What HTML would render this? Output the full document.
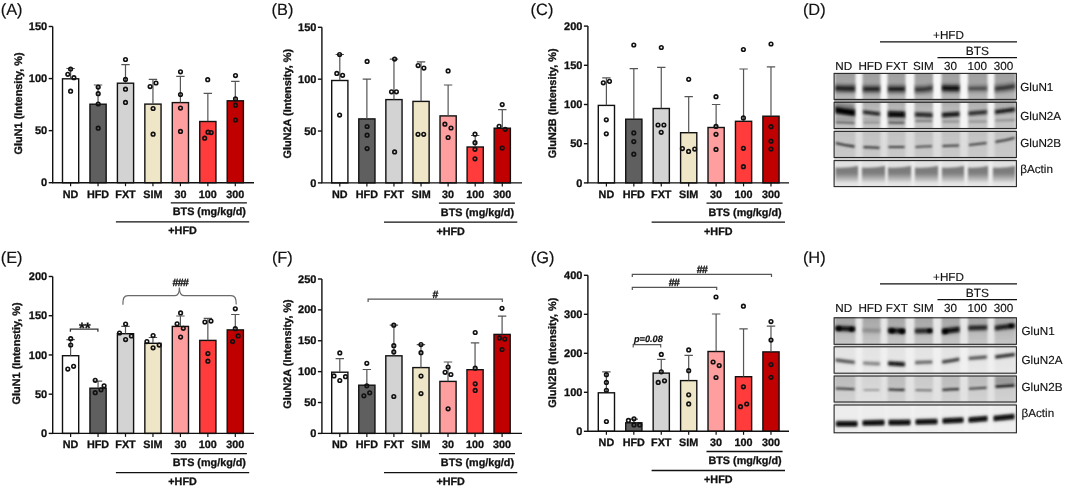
<!DOCTYPE html>
<html><head><meta charset="utf-8"><style>
html,body{margin:0;padding:0;background:#fff;}
svg{display:block;will-change:transform;}
text{font-family:"Liberation Sans", sans-serif;fill:#111;stroke:#111;stroke-width:0.15px;text-rendering:geometricPrecision;}
.b{font-weight:bold;stroke:#111;stroke-width:0.3px;}
.bi{font-weight:bold;font-style:italic;stroke-width:0.2px;}
.hs{letter-spacing:-0.6px;}
</style></head><body>
<svg width="1065" height="487" viewBox="0 0 1065 487">
<rect width="1065" height="487" fill="#fff"/>

<rect x="62.5" y="78.8" width="16.2" height="103.9" fill="#ffffff" stroke="#111" stroke-width="1.4"/>
<rect x="89.95" y="104.2" width="16.2" height="78.5" fill="#5f5f5f" stroke="#111" stroke-width="1.4"/>
<rect x="117.4" y="83.2" width="16.2" height="99.5" fill="#d3d3d3" stroke="#111" stroke-width="1.4"/>
<rect x="144.85" y="104.1" width="16.2" height="78.6" fill="#efe6c8" stroke="#111" stroke-width="1.4"/>
<rect x="172.3" y="102.6" width="16.2" height="80.1" fill="#ff9e9e" stroke="#111" stroke-width="1.4"/>
<rect x="199.75" y="121.5" width="16.2" height="61.2" fill="#ff3b3b" stroke="#111" stroke-width="1.4"/>
<rect x="227.2" y="100.8" width="16.2" height="81.9" fill="#c00000" stroke="#111" stroke-width="1.4"/>
<path d="M70.6 78.6V68.5M66.4 68.5H74.8" stroke="#555" stroke-width="1.2" fill="none"/>
<path d="M98.05 104V85M93.85 85H102.25" stroke="#555" stroke-width="1.2" fill="none"/>
<path d="M125.5 83V64.6M121.3 64.6H129.7" stroke="#555" stroke-width="1.2" fill="none"/>
<path d="M152.95 103.9V79.4M148.75 79.4H157.15" stroke="#555" stroke-width="1.2" fill="none"/>
<path d="M180.4 102.4V76.4M176.2 76.4H184.6" stroke="#555" stroke-width="1.2" fill="none"/>
<path d="M207.85 121.3V93.3M203.65 93.3H212.05" stroke="#555" stroke-width="1.2" fill="none"/>
<path d="M235.3 100.6V81.3M231.1 81.3H239.5" stroke="#555" stroke-width="1.2" fill="none"/>
<circle cx="70.6" cy="69" r="1.8" fill="none" stroke="#111" stroke-width="1.6"/>
<circle cx="67.8" cy="74.3" r="1.8" fill="none" stroke="#111" stroke-width="1.6"/>
<circle cx="73.9" cy="77.7" r="1.8" fill="none" stroke="#111" stroke-width="1.6"/>
<circle cx="70.6" cy="91.2" r="1.8" fill="none" stroke="#111" stroke-width="1.6"/>
<circle cx="98.2" cy="87.1" r="1.8" fill="none" stroke="#111" stroke-width="1.6"/>
<circle cx="98.2" cy="93.7" r="1.8" fill="none" stroke="#111" stroke-width="1.6"/>
<circle cx="98.2" cy="104" r="1.8" fill="none" stroke="#111" stroke-width="1.6"/>
<circle cx="98.2" cy="128.2" r="1.8" fill="none" stroke="#111" stroke-width="1.6"/>
<circle cx="125.5" cy="59.5" r="1.8" fill="none" stroke="#111" stroke-width="1.6"/>
<circle cx="125.5" cy="79.4" r="1.8" fill="none" stroke="#111" stroke-width="1.6"/>
<circle cx="125.5" cy="89.2" r="1.8" fill="none" stroke="#111" stroke-width="1.6"/>
<circle cx="125.5" cy="102.4" r="1.8" fill="none" stroke="#111" stroke-width="1.6"/>
<circle cx="150.1" cy="86.6" r="1.8" fill="none" stroke="#111" stroke-width="1.6"/>
<circle cx="156" cy="83" r="1.8" fill="none" stroke="#111" stroke-width="1.6"/>
<circle cx="153.1" cy="108.5" r="1.8" fill="none" stroke="#111" stroke-width="1.6"/>
<circle cx="153.1" cy="134.2" r="1.8" fill="none" stroke="#111" stroke-width="1.6"/>
<circle cx="180.5" cy="71.8" r="1.8" fill="none" stroke="#111" stroke-width="1.6"/>
<circle cx="180.5" cy="94.5" r="1.8" fill="none" stroke="#111" stroke-width="1.6"/>
<circle cx="180.5" cy="108.1" r="1.8" fill="none" stroke="#111" stroke-width="1.6"/>
<circle cx="180.5" cy="131.4" r="1.8" fill="none" stroke="#111" stroke-width="1.6"/>
<circle cx="207.7" cy="79.7" r="1.8" fill="none" stroke="#111" stroke-width="1.6"/>
<circle cx="208" cy="132.2" r="1.8" fill="none" stroke="#111" stroke-width="1.6"/>
<circle cx="211.2" cy="132.6" r="1.8" fill="none" stroke="#111" stroke-width="1.6"/>
<circle cx="204.7" cy="138.2" r="1.8" fill="none" stroke="#111" stroke-width="1.6"/>
<circle cx="235.5" cy="75.6" r="1.8" fill="none" stroke="#111" stroke-width="1.6"/>
<circle cx="235.5" cy="98.9" r="1.8" fill="none" stroke="#111" stroke-width="1.6"/>
<circle cx="235.5" cy="105.2" r="1.8" fill="none" stroke="#111" stroke-width="1.6"/>
<circle cx="235.5" cy="120" r="1.8" fill="none" stroke="#111" stroke-width="1.6"/>
<path d="M52.7 26.5V182.7H254" stroke="#111" stroke-width="1.4" fill="none"/>
<path d="M48.7 182.7H52.7" stroke="#111" stroke-width="1.4"/>
<text x="47.2" y="186.3" text-anchor="end" class="b" font-size="11">0</text>
<path d="M48.7 130.63H52.7" stroke="#111" stroke-width="1.4"/>
<text x="47.2" y="134.23" text-anchor="end" class="b" font-size="11">50</text>
<path d="M48.7 78.57H52.7" stroke="#111" stroke-width="1.4"/>
<text x="47.2" y="82.17" text-anchor="end" class="b" font-size="11">100</text>
<path d="M48.7 26.5H52.7" stroke="#111" stroke-width="1.4"/>
<text x="47.2" y="30.1" text-anchor="end" class="b" font-size="11">150</text>
<path d="M70.6 182.7V186.2" stroke="#111" stroke-width="1.2"/>
<text x="70.6" y="197.7" text-anchor="middle" class="b" font-size="10.8">ND</text>
<path d="M98.05 182.7V186.2" stroke="#111" stroke-width="1.2"/>
<text x="98.05" y="197.7" text-anchor="middle" class="b" font-size="10.8">HFD</text>
<path d="M125.5 182.7V186.2" stroke="#111" stroke-width="1.2"/>
<text x="125.5" y="197.7" text-anchor="middle" class="b" font-size="10.8">FXT</text>
<path d="M152.95 182.7V186.2" stroke="#111" stroke-width="1.2"/>
<text x="152.95" y="197.7" text-anchor="middle" class="b" font-size="10.8">SIM</text>
<path d="M180.4 182.7V186.2" stroke="#111" stroke-width="1.2"/>
<text x="180.4" y="197.7" text-anchor="middle" class="b" font-size="10.8">30</text>
<path d="M207.85 182.7V186.2" stroke="#111" stroke-width="1.2"/>
<text x="207.85" y="197.7" text-anchor="middle" class="b" font-size="10.8">100</text>
<path d="M235.3 182.7V186.2" stroke="#111" stroke-width="1.2"/>
<text x="235.3" y="197.7" text-anchor="middle" class="b" font-size="10.8">300</text>
<path d="M170.8 202.9H246.9" stroke="#111" stroke-width="1.4"/>
<text x="209.35" y="215.3" text-anchor="middle" class="b" font-size="10.8">BTS (mg/kg/d)</text>
<path d="M115.9 221.9H249.2" stroke="#111" stroke-width="1.4"/>
<text x="182.55" y="234.3" text-anchor="middle" class="b" font-size="10.8">+HFD</text>
<text transform="translate(21.7 103.4) rotate(-90)" text-anchor="middle" class="b" font-size="10.9">GluN1 (Intensity, %)</text>
<text x="0.7" y="14.8" font-size="16.4">(A)</text>
<rect x="331.7" y="80.5" width="16.2" height="102.4" fill="#ffffff" stroke="#111" stroke-width="1.4"/>
<rect x="358.78" y="118.9" width="16.2" height="64" fill="#5f5f5f" stroke="#111" stroke-width="1.4"/>
<rect x="385.86" y="99.6" width="16.2" height="83.3" fill="#d3d3d3" stroke="#111" stroke-width="1.4"/>
<rect x="412.94" y="101.4" width="16.2" height="81.5" fill="#efe6c8" stroke="#111" stroke-width="1.4"/>
<rect x="440.02" y="115.9" width="16.2" height="67" fill="#ff9e9e" stroke="#111" stroke-width="1.4"/>
<rect x="467.1" y="147" width="16.2" height="35.9" fill="#ff3b3b" stroke="#111" stroke-width="1.4"/>
<rect x="494.18" y="128.2" width="16.2" height="54.7" fill="#c00000" stroke="#111" stroke-width="1.4"/>
<path d="M339.8 80.3V54.5M335.6 54.5H344" stroke="#555" stroke-width="1.2" fill="none"/>
<path d="M366.88 118.7V79.1M362.68 79.1H371.08" stroke="#555" stroke-width="1.2" fill="none"/>
<path d="M393.96 99.4V59.1M389.76 59.1H398.16" stroke="#555" stroke-width="1.2" fill="none"/>
<path d="M421.04 101.2V61.8M416.84 61.8H425.24" stroke="#555" stroke-width="1.2" fill="none"/>
<path d="M448.12 115.7V85M443.92 85H452.32" stroke="#555" stroke-width="1.2" fill="none"/>
<path d="M475.2 146.8V135.5M471 135.5H479.4" stroke="#555" stroke-width="1.2" fill="none"/>
<path d="M502.28 128V109.6M498.08 109.6H506.48" stroke="#555" stroke-width="1.2" fill="none"/>
<circle cx="339.6" cy="54.5" r="1.8" fill="none" stroke="#111" stroke-width="1.6"/>
<circle cx="336.8" cy="73.4" r="1.8" fill="none" stroke="#111" stroke-width="1.6"/>
<circle cx="342.6" cy="75.3" r="1.8" fill="none" stroke="#111" stroke-width="1.6"/>
<circle cx="339.6" cy="115.1" r="1.8" fill="none" stroke="#111" stroke-width="1.6"/>
<circle cx="367.1" cy="61.4" r="1.8" fill="none" stroke="#111" stroke-width="1.6"/>
<circle cx="367.1" cy="126.5" r="1.8" fill="none" stroke="#111" stroke-width="1.6"/>
<circle cx="367.1" cy="135.2" r="1.8" fill="none" stroke="#111" stroke-width="1.6"/>
<circle cx="367.1" cy="148.6" r="1.8" fill="none" stroke="#111" stroke-width="1.6"/>
<circle cx="394.6" cy="59.1" r="1.8" fill="none" stroke="#111" stroke-width="1.6"/>
<circle cx="391.5" cy="91.8" r="1.8" fill="none" stroke="#111" stroke-width="1.6"/>
<circle cx="396.4" cy="91.8" r="1.8" fill="none" stroke="#111" stroke-width="1.6"/>
<circle cx="394.6" cy="151.9" r="1.8" fill="none" stroke="#111" stroke-width="1.6"/>
<circle cx="418.1" cy="65.6" r="1.8" fill="none" stroke="#111" stroke-width="1.6"/>
<circle cx="423.9" cy="68.1" r="1.8" fill="none" stroke="#111" stroke-width="1.6"/>
<circle cx="418" cy="134.3" r="1.8" fill="none" stroke="#111" stroke-width="1.6"/>
<circle cx="423.7" cy="134.3" r="1.8" fill="none" stroke="#111" stroke-width="1.6"/>
<circle cx="448.1" cy="70.9" r="1.8" fill="none" stroke="#111" stroke-width="1.6"/>
<circle cx="444.9" cy="124.2" r="1.8" fill="none" stroke="#111" stroke-width="1.6"/>
<circle cx="451" cy="128" r="1.8" fill="none" stroke="#111" stroke-width="1.6"/>
<circle cx="448.1" cy="137.5" r="1.8" fill="none" stroke="#111" stroke-width="1.6"/>
<circle cx="475" cy="134.2" r="1.8" fill="none" stroke="#111" stroke-width="1.6"/>
<circle cx="475" cy="142.7" r="1.8" fill="none" stroke="#111" stroke-width="1.6"/>
<circle cx="475" cy="149.3" r="1.8" fill="none" stroke="#111" stroke-width="1.6"/>
<circle cx="475" cy="158.8" r="1.8" fill="none" stroke="#111" stroke-width="1.6"/>
<circle cx="502.2" cy="104.6" r="1.8" fill="none" stroke="#111" stroke-width="1.6"/>
<circle cx="499.1" cy="126.3" r="1.8" fill="none" stroke="#111" stroke-width="1.6"/>
<circle cx="505.2" cy="129.3" r="1.8" fill="none" stroke="#111" stroke-width="1.6"/>
<circle cx="502.2" cy="148.1" r="1.8" fill="none" stroke="#111" stroke-width="1.6"/>
<path d="M321.9 27.3V182.9H522" stroke="#111" stroke-width="1.4" fill="none"/>
<path d="M317.9 182.9H321.9" stroke="#111" stroke-width="1.4"/>
<text x="316.4" y="186.5" text-anchor="end" class="b" font-size="11">0</text>
<path d="M317.9 131.03H321.9" stroke="#111" stroke-width="1.4"/>
<text x="316.4" y="134.63" text-anchor="end" class="b" font-size="11">50</text>
<path d="M317.9 79.17H321.9" stroke="#111" stroke-width="1.4"/>
<text x="316.4" y="82.77" text-anchor="end" class="b" font-size="11">100</text>
<path d="M317.9 27.3H321.9" stroke="#111" stroke-width="1.4"/>
<text x="316.4" y="30.9" text-anchor="end" class="b" font-size="11">150</text>
<path d="M339.8 182.9V186.4" stroke="#111" stroke-width="1.2"/>
<text x="339.8" y="197.9" text-anchor="middle" class="b" font-size="10.8">ND</text>
<path d="M366.88 182.9V186.4" stroke="#111" stroke-width="1.2"/>
<text x="366.88" y="197.9" text-anchor="middle" class="b" font-size="10.8">HFD</text>
<path d="M393.96 182.9V186.4" stroke="#111" stroke-width="1.2"/>
<text x="393.96" y="197.9" text-anchor="middle" class="b" font-size="10.8">FXT</text>
<path d="M421.04 182.9V186.4" stroke="#111" stroke-width="1.2"/>
<text x="421.04" y="197.9" text-anchor="middle" class="b" font-size="10.8">SIM</text>
<path d="M448.12 182.9V186.4" stroke="#111" stroke-width="1.2"/>
<text x="448.12" y="197.9" text-anchor="middle" class="b" font-size="10.8">30</text>
<path d="M475.2 182.9V186.4" stroke="#111" stroke-width="1.2"/>
<text x="475.2" y="197.9" text-anchor="middle" class="b" font-size="10.8">100</text>
<path d="M502.28 182.9V186.4" stroke="#111" stroke-width="1.2"/>
<text x="502.28" y="197.9" text-anchor="middle" class="b" font-size="10.8">300</text>
<path d="M438.9 203.1H515" stroke="#111" stroke-width="1.4"/>
<text x="477.45" y="215.5" text-anchor="middle" class="b" font-size="10.8">BTS (mg/kg/d)</text>
<path d="M384 222.1H517.3" stroke="#111" stroke-width="1.4"/>
<text x="450.65" y="234.5" text-anchor="middle" class="b" font-size="10.8">+HFD</text>
<text transform="translate(290.7 103.7) rotate(-90)" text-anchor="middle" class="b" font-size="10.9">GluN2A (Intensity, %)</text>
<text x="271.6" y="14.7" font-size="16.4">(B)</text>
<rect x="598.3" y="105.4" width="16.2" height="77.5" fill="#ffffff" stroke="#111" stroke-width="1.4"/>
<rect x="625.73" y="119.2" width="16.2" height="63.7" fill="#5f5f5f" stroke="#111" stroke-width="1.4"/>
<rect x="653.16" y="108.5" width="16.2" height="74.4" fill="#d3d3d3" stroke="#111" stroke-width="1.4"/>
<rect x="680.59" y="132.7" width="16.2" height="50.2" fill="#efe6c8" stroke="#111" stroke-width="1.4"/>
<rect x="708.02" y="127.5" width="16.2" height="55.4" fill="#ff9e9e" stroke="#111" stroke-width="1.4"/>
<rect x="735.45" y="121.3" width="16.2" height="61.6" fill="#ff3b3b" stroke="#111" stroke-width="1.4"/>
<rect x="762.88" y="116.2" width="16.2" height="66.7" fill="#c00000" stroke="#111" stroke-width="1.4"/>
<path d="M606.4 105.2V77.8M602.2 77.8H610.6" stroke="#555" stroke-width="1.2" fill="none"/>
<path d="M633.83 119V68.6M629.63 68.6H638.03" stroke="#555" stroke-width="1.2" fill="none"/>
<path d="M661.26 108.3V67.4M657.06 67.4H665.46" stroke="#555" stroke-width="1.2" fill="none"/>
<path d="M688.69 132.5V96.7M684.49 96.7H692.89" stroke="#555" stroke-width="1.2" fill="none"/>
<path d="M716.12 127.3V104.5M711.92 104.5H720.32" stroke="#555" stroke-width="1.2" fill="none"/>
<path d="M743.55 121.1V69M739.35 69H747.75" stroke="#555" stroke-width="1.2" fill="none"/>
<path d="M770.98 116V66.9M766.78 66.9H775.18" stroke="#555" stroke-width="1.2" fill="none"/>
<circle cx="603.3" cy="82.8" r="1.8" fill="none" stroke="#111" stroke-width="1.6"/>
<circle cx="609.5" cy="81.3" r="1.8" fill="none" stroke="#111" stroke-width="1.6"/>
<circle cx="606.3" cy="119.8" r="1.8" fill="none" stroke="#111" stroke-width="1.6"/>
<circle cx="606.3" cy="133.8" r="1.8" fill="none" stroke="#111" stroke-width="1.6"/>
<circle cx="633.8" cy="45" r="1.8" fill="none" stroke="#111" stroke-width="1.6"/>
<circle cx="633.8" cy="132.9" r="1.8" fill="none" stroke="#111" stroke-width="1.6"/>
<circle cx="633.8" cy="141.6" r="1.8" fill="none" stroke="#111" stroke-width="1.6"/>
<circle cx="633.8" cy="154.2" r="1.8" fill="none" stroke="#111" stroke-width="1.6"/>
<circle cx="661.3" cy="47.5" r="1.8" fill="none" stroke="#111" stroke-width="1.6"/>
<circle cx="658" cy="125" r="1.8" fill="none" stroke="#111" stroke-width="1.6"/>
<circle cx="663.9" cy="125" r="1.8" fill="none" stroke="#111" stroke-width="1.6"/>
<circle cx="661.2" cy="132.3" r="1.8" fill="none" stroke="#111" stroke-width="1.6"/>
<circle cx="688.7" cy="79.3" r="1.8" fill="none" stroke="#111" stroke-width="1.6"/>
<circle cx="682.4" cy="148.6" r="1.8" fill="none" stroke="#111" stroke-width="1.6"/>
<circle cx="688.6" cy="151.4" r="1.8" fill="none" stroke="#111" stroke-width="1.6"/>
<circle cx="694.7" cy="149.1" r="1.8" fill="none" stroke="#111" stroke-width="1.6"/>
<circle cx="716" cy="96.7" r="1.8" fill="none" stroke="#111" stroke-width="1.6"/>
<circle cx="716" cy="126.4" r="1.8" fill="none" stroke="#111" stroke-width="1.6"/>
<circle cx="716" cy="134.3" r="1.8" fill="none" stroke="#111" stroke-width="1.6"/>
<circle cx="716" cy="149.4" r="1.8" fill="none" stroke="#111" stroke-width="1.6"/>
<circle cx="743.4" cy="49.5" r="1.8" fill="none" stroke="#111" stroke-width="1.6"/>
<circle cx="743.4" cy="117.9" r="1.8" fill="none" stroke="#111" stroke-width="1.6"/>
<circle cx="743.4" cy="148.3" r="1.8" fill="none" stroke="#111" stroke-width="1.6"/>
<circle cx="743.4" cy="166.7" r="1.8" fill="none" stroke="#111" stroke-width="1.6"/>
<circle cx="771" cy="44" r="1.8" fill="none" stroke="#111" stroke-width="1.6"/>
<circle cx="771" cy="126.7" r="1.8" fill="none" stroke="#111" stroke-width="1.6"/>
<circle cx="771" cy="141.2" r="1.8" fill="none" stroke="#111" stroke-width="1.6"/>
<circle cx="771" cy="149.1" r="1.8" fill="none" stroke="#111" stroke-width="1.6"/>
<path d="M587.9 26.1V182.9H789" stroke="#111" stroke-width="1.4" fill="none"/>
<path d="M583.9 182.9H587.9" stroke="#111" stroke-width="1.4"/>
<text x="582.4" y="186.5" text-anchor="end" class="b" font-size="11">0</text>
<path d="M583.9 143.7H587.9" stroke="#111" stroke-width="1.4"/>
<text x="582.4" y="147.3" text-anchor="end" class="b" font-size="11">50</text>
<path d="M583.9 104.5H587.9" stroke="#111" stroke-width="1.4"/>
<text x="582.4" y="108.1" text-anchor="end" class="b" font-size="11">100</text>
<path d="M583.9 65.3H587.9" stroke="#111" stroke-width="1.4"/>
<text x="582.4" y="68.9" text-anchor="end" class="b" font-size="11">150</text>
<path d="M583.9 26.1H587.9" stroke="#111" stroke-width="1.4"/>
<text x="582.4" y="29.7" text-anchor="end" class="b" font-size="11">200</text>
<path d="M606.4 182.9V186.4" stroke="#111" stroke-width="1.2"/>
<text x="606.4" y="197.9" text-anchor="middle" class="b" font-size="10.8">ND</text>
<path d="M633.83 182.9V186.4" stroke="#111" stroke-width="1.2"/>
<text x="633.83" y="197.9" text-anchor="middle" class="b" font-size="10.8">HFD</text>
<path d="M661.26 182.9V186.4" stroke="#111" stroke-width="1.2"/>
<text x="661.26" y="197.9" text-anchor="middle" class="b" font-size="10.8">FXT</text>
<path d="M688.69 182.9V186.4" stroke="#111" stroke-width="1.2"/>
<text x="688.69" y="197.9" text-anchor="middle" class="b" font-size="10.8">SIM</text>
<path d="M716.12 182.9V186.4" stroke="#111" stroke-width="1.2"/>
<text x="716.12" y="197.9" text-anchor="middle" class="b" font-size="10.8">30</text>
<path d="M743.55 182.9V186.4" stroke="#111" stroke-width="1.2"/>
<text x="743.55" y="197.9" text-anchor="middle" class="b" font-size="10.8">100</text>
<path d="M770.98 182.9V186.4" stroke="#111" stroke-width="1.2"/>
<text x="770.98" y="197.9" text-anchor="middle" class="b" font-size="10.8">300</text>
<path d="M706.5 203.1H782.6" stroke="#111" stroke-width="1.4"/>
<text x="745.05" y="215.5" text-anchor="middle" class="b" font-size="10.8">BTS (mg/kg/d)</text>
<path d="M651.6 222.1H785" stroke="#111" stroke-width="1.4"/>
<text x="718.3" y="234.5" text-anchor="middle" class="b" font-size="10.8">+HFD</text>
<text transform="translate(556.2 103.3) rotate(-90)" text-anchor="middle" class="b" font-size="10.9">GluN2B (Intensity, %)</text>
<text x="530.6" y="14.7" font-size="16.4">(C)</text>
<rect x="62.5" y="355.7" width="16.2" height="77.7" fill="#ffffff" stroke="#111" stroke-width="1.4"/>
<rect x="89.95" y="388.2" width="16.2" height="45.2" fill="#5f5f5f" stroke="#111" stroke-width="1.4"/>
<rect x="117.4" y="333.7" width="16.2" height="99.7" fill="#d3d3d3" stroke="#111" stroke-width="1.4"/>
<rect x="144.85" y="343.3" width="16.2" height="90.1" fill="#efe6c8" stroke="#111" stroke-width="1.4"/>
<rect x="172.3" y="326.4" width="16.2" height="107" fill="#ff9e9e" stroke="#111" stroke-width="1.4"/>
<rect x="199.75" y="340.4" width="16.2" height="93" fill="#ff3b3b" stroke="#111" stroke-width="1.4"/>
<rect x="227.2" y="329.9" width="16.2" height="103.5" fill="#c00000" stroke="#111" stroke-width="1.4"/>
<path d="M70.6 355.5V339.6M66.4 339.6H74.8" stroke="#555" stroke-width="1.2" fill="none"/>
<path d="M98.05 388V381.2M93.85 381.2H102.25" stroke="#555" stroke-width="1.2" fill="none"/>
<path d="M125.5 333.5V326.4M121.3 326.4H129.7" stroke="#555" stroke-width="1.2" fill="none"/>
<path d="M152.95 343.1V337.5M148.75 337.5H157.15" stroke="#555" stroke-width="1.2" fill="none"/>
<path d="M180.4 326.2V316M176.2 316H184.6" stroke="#555" stroke-width="1.2" fill="none"/>
<path d="M207.85 340.2V318.4M203.65 318.4H212.05" stroke="#555" stroke-width="1.2" fill="none"/>
<path d="M235.3 329.7V314.5M231.1 314.5H239.5" stroke="#555" stroke-width="1.2" fill="none"/>
<circle cx="70.7" cy="338.7" r="1.8" fill="none" stroke="#111" stroke-width="1.6"/>
<circle cx="70.7" cy="345" r="1.8" fill="none" stroke="#111" stroke-width="1.6"/>
<circle cx="67.8" cy="369.1" r="1.8" fill="none" stroke="#111" stroke-width="1.6"/>
<circle cx="73.6" cy="366.3" r="1.8" fill="none" stroke="#111" stroke-width="1.6"/>
<circle cx="95.2" cy="380.3" r="1.8" fill="none" stroke="#111" stroke-width="1.6"/>
<circle cx="104.1" cy="385.8" r="1.8" fill="none" stroke="#111" stroke-width="1.6"/>
<circle cx="101" cy="389.8" r="1.8" fill="none" stroke="#111" stroke-width="1.6"/>
<circle cx="95.2" cy="392.7" r="1.8" fill="none" stroke="#111" stroke-width="1.6"/>
<circle cx="125.6" cy="324" r="1.8" fill="none" stroke="#111" stroke-width="1.6"/>
<circle cx="119.5" cy="333" r="1.8" fill="none" stroke="#111" stroke-width="1.6"/>
<circle cx="125.6" cy="339.6" r="1.8" fill="none" stroke="#111" stroke-width="1.6"/>
<circle cx="131.4" cy="336" r="1.8" fill="none" stroke="#111" stroke-width="1.6"/>
<circle cx="153.1" cy="335.5" r="1.8" fill="none" stroke="#111" stroke-width="1.6"/>
<circle cx="146.9" cy="341.6" r="1.8" fill="none" stroke="#111" stroke-width="1.6"/>
<circle cx="153.1" cy="347.8" r="1.8" fill="none" stroke="#111" stroke-width="1.6"/>
<circle cx="159.2" cy="345.1" r="1.8" fill="none" stroke="#111" stroke-width="1.6"/>
<circle cx="180.6" cy="312.9" r="1.8" fill="none" stroke="#111" stroke-width="1.6"/>
<circle cx="177.1" cy="323.8" r="1.8" fill="none" stroke="#111" stroke-width="1.6"/>
<circle cx="183.3" cy="328.3" r="1.8" fill="none" stroke="#111" stroke-width="1.6"/>
<circle cx="180.6" cy="337.1" r="1.8" fill="none" stroke="#111" stroke-width="1.6"/>
<circle cx="204.9" cy="322.1" r="1.8" fill="none" stroke="#111" stroke-width="1.6"/>
<circle cx="211" cy="321.1" r="1.8" fill="none" stroke="#111" stroke-width="1.6"/>
<circle cx="207.9" cy="353.6" r="1.8" fill="none" stroke="#111" stroke-width="1.6"/>
<circle cx="207.9" cy="361.2" r="1.8" fill="none" stroke="#111" stroke-width="1.6"/>
<circle cx="235.3" cy="308.8" r="1.8" fill="none" stroke="#111" stroke-width="1.6"/>
<circle cx="235.3" cy="328.7" r="1.8" fill="none" stroke="#111" stroke-width="1.6"/>
<circle cx="238.1" cy="335.9" r="1.8" fill="none" stroke="#111" stroke-width="1.6"/>
<circle cx="232.6" cy="341.6" r="1.8" fill="none" stroke="#111" stroke-width="1.6"/>
<path d="M52.7 276.5V433.4H254" stroke="#111" stroke-width="1.4" fill="none"/>
<path d="M48.7 433.4H52.7" stroke="#111" stroke-width="1.4"/>
<text x="47.2" y="437" text-anchor="end" class="b" font-size="11">0</text>
<path d="M48.7 394.17H52.7" stroke="#111" stroke-width="1.4"/>
<text x="47.2" y="397.77" text-anchor="end" class="b" font-size="11">50</text>
<path d="M48.7 354.95H52.7" stroke="#111" stroke-width="1.4"/>
<text x="47.2" y="358.55" text-anchor="end" class="b" font-size="11">100</text>
<path d="M48.7 315.73H52.7" stroke="#111" stroke-width="1.4"/>
<text x="47.2" y="319.33" text-anchor="end" class="b" font-size="11">150</text>
<path d="M48.7 276.5H52.7" stroke="#111" stroke-width="1.4"/>
<text x="47.2" y="280.1" text-anchor="end" class="b" font-size="11">200</text>
<path d="M70.6 433.4V436.9" stroke="#111" stroke-width="1.2"/>
<text x="70.6" y="448.4" text-anchor="middle" class="b" font-size="10.8">ND</text>
<path d="M98.05 433.4V436.9" stroke="#111" stroke-width="1.2"/>
<text x="98.05" y="448.4" text-anchor="middle" class="b" font-size="10.8">HFD</text>
<path d="M125.5 433.4V436.9" stroke="#111" stroke-width="1.2"/>
<text x="125.5" y="448.4" text-anchor="middle" class="b" font-size="10.8">FXT</text>
<path d="M152.95 433.4V436.9" stroke="#111" stroke-width="1.2"/>
<text x="152.95" y="448.4" text-anchor="middle" class="b" font-size="10.8">SIM</text>
<path d="M180.4 433.4V436.9" stroke="#111" stroke-width="1.2"/>
<text x="180.4" y="448.4" text-anchor="middle" class="b" font-size="10.8">30</text>
<path d="M207.85 433.4V436.9" stroke="#111" stroke-width="1.2"/>
<text x="207.85" y="448.4" text-anchor="middle" class="b" font-size="10.8">100</text>
<path d="M235.3 433.4V436.9" stroke="#111" stroke-width="1.2"/>
<text x="235.3" y="448.4" text-anchor="middle" class="b" font-size="10.8">300</text>
<path d="M170.8 453.6H246.9" stroke="#111" stroke-width="1.4"/>
<text x="209.35" y="466" text-anchor="middle" class="b" font-size="10.8">BTS (mg/kg/d)</text>
<path d="M115.9 472.6H249.2" stroke="#111" stroke-width="1.4"/>
<text x="182.55" y="485" text-anchor="middle" class="b" font-size="10.8">+HFD</text>
<text transform="translate(20.3 353.4) rotate(-90)" text-anchor="middle" class="b" font-size="10.9">GluN1 (Intenstiy, %)</text>
<text x="0.7" y="262.8" font-size="16.4">(E)</text>
<path d="M70.4 331.7V329.2H97.9V331.7" stroke="#333" stroke-width="1.3" fill="none"/>
<text x="84.8" y="333.4" text-anchor="middle" class="b" font-size="15">**</text>
<path d="M122.9 304.8C122.9 298 124 295.6 128 295.6H175C178 295.6 179.4 293 179.4 287.5C179.4 293 181 295.6 184 295.6H231C235 295.6 236.2 298 236.2 304.4" stroke="#6a6a6a" stroke-width="1.2" fill="none"/>
<text x="180.3" y="285.8" text-anchor="middle" class="b hs" font-size="10.5">###</text>
<rect x="331.7" y="372.2" width="16.2" height="61.2" fill="#ffffff" stroke="#111" stroke-width="1.4"/>
<rect x="358.75" y="385.2" width="16.2" height="48.2" fill="#5f5f5f" stroke="#111" stroke-width="1.4"/>
<rect x="385.8" y="355.8" width="16.2" height="77.6" fill="#d3d3d3" stroke="#111" stroke-width="1.4"/>
<rect x="412.85" y="367.6" width="16.2" height="65.8" fill="#efe6c8" stroke="#111" stroke-width="1.4"/>
<rect x="439.9" y="381.4" width="16.2" height="52" fill="#ff9e9e" stroke="#111" stroke-width="1.4"/>
<rect x="466.95" y="369.7" width="16.2" height="63.7" fill="#ff3b3b" stroke="#111" stroke-width="1.4"/>
<rect x="494" y="334.4" width="16.2" height="99" fill="#c00000" stroke="#111" stroke-width="1.4"/>
<path d="M339.8 372V358.6M335.6 358.6H344" stroke="#555" stroke-width="1.2" fill="none"/>
<path d="M366.85 385V369.5M362.65 369.5H371.05" stroke="#555" stroke-width="1.2" fill="none"/>
<path d="M393.9 355.6V325.2M389.7 325.2H398.1" stroke="#555" stroke-width="1.2" fill="none"/>
<path d="M420.95 367.4V344.6M416.75 344.6H425.15" stroke="#555" stroke-width="1.2" fill="none"/>
<path d="M448 381.2V362M443.8 362H452.2" stroke="#555" stroke-width="1.2" fill="none"/>
<path d="M475.05 369.5V342.8M470.85 342.8H479.25" stroke="#555" stroke-width="1.2" fill="none"/>
<path d="M502.1 334.2V316.2M497.9 316.2H506.3" stroke="#555" stroke-width="1.2" fill="none"/>
<circle cx="339.8" cy="352.9" r="1.8" fill="none" stroke="#111" stroke-width="1.6"/>
<circle cx="334" cy="375.9" r="1.8" fill="none" stroke="#111" stroke-width="1.6"/>
<circle cx="339.8" cy="380.5" r="1.8" fill="none" stroke="#111" stroke-width="1.6"/>
<circle cx="345.5" cy="376.7" r="1.8" fill="none" stroke="#111" stroke-width="1.6"/>
<circle cx="366.8" cy="363.3" r="1.8" fill="none" stroke="#111" stroke-width="1.6"/>
<circle cx="366.8" cy="385.8" r="1.8" fill="none" stroke="#111" stroke-width="1.6"/>
<circle cx="363.9" cy="395.8" r="1.8" fill="none" stroke="#111" stroke-width="1.6"/>
<circle cx="369.7" cy="392.8" r="1.8" fill="none" stroke="#111" stroke-width="1.6"/>
<circle cx="393.8" cy="325.2" r="1.8" fill="none" stroke="#111" stroke-width="1.6"/>
<circle cx="393.8" cy="345.7" r="1.8" fill="none" stroke="#111" stroke-width="1.6"/>
<circle cx="393.8" cy="351.9" r="1.8" fill="none" stroke="#111" stroke-width="1.6"/>
<circle cx="393.8" cy="396.5" r="1.8" fill="none" stroke="#111" stroke-width="1.6"/>
<circle cx="421" cy="344.6" r="1.8" fill="none" stroke="#111" stroke-width="1.6"/>
<circle cx="421" cy="352.7" r="1.8" fill="none" stroke="#111" stroke-width="1.6"/>
<circle cx="421" cy="376.1" r="1.8" fill="none" stroke="#111" stroke-width="1.6"/>
<circle cx="421" cy="393.6" r="1.8" fill="none" stroke="#111" stroke-width="1.6"/>
<circle cx="448.1" cy="367.1" r="1.8" fill="none" stroke="#111" stroke-width="1.6"/>
<circle cx="445.1" cy="372.3" r="1.8" fill="none" stroke="#111" stroke-width="1.6"/>
<circle cx="450.9" cy="374.5" r="1.8" fill="none" stroke="#111" stroke-width="1.6"/>
<circle cx="448.1" cy="408.8" r="1.8" fill="none" stroke="#111" stroke-width="1.6"/>
<circle cx="475.2" cy="332.5" r="1.8" fill="none" stroke="#111" stroke-width="1.6"/>
<circle cx="475.2" cy="368.2" r="1.8" fill="none" stroke="#111" stroke-width="1.6"/>
<circle cx="475.2" cy="383.8" r="1.8" fill="none" stroke="#111" stroke-width="1.6"/>
<circle cx="475.2" cy="390.4" r="1.8" fill="none" stroke="#111" stroke-width="1.6"/>
<circle cx="502" cy="308.3" r="1.8" fill="none" stroke="#111" stroke-width="1.6"/>
<circle cx="499.4" cy="337.9" r="1.8" fill="none" stroke="#111" stroke-width="1.6"/>
<circle cx="504.8" cy="339.1" r="1.8" fill="none" stroke="#111" stroke-width="1.6"/>
<circle cx="502" cy="349.5" r="1.8" fill="none" stroke="#111" stroke-width="1.6"/>
<path d="M321.9 279V433.4H522" stroke="#111" stroke-width="1.4" fill="none"/>
<path d="M317.9 433.4H321.9" stroke="#111" stroke-width="1.4"/>
<text x="316.4" y="437" text-anchor="end" class="b" font-size="11">0</text>
<path d="M317.9 402.52H321.9" stroke="#111" stroke-width="1.4"/>
<text x="316.4" y="406.12" text-anchor="end" class="b" font-size="11">50</text>
<path d="M317.9 371.64H321.9" stroke="#111" stroke-width="1.4"/>
<text x="316.4" y="375.24" text-anchor="end" class="b" font-size="11">100</text>
<path d="M317.9 340.76H321.9" stroke="#111" stroke-width="1.4"/>
<text x="316.4" y="344.36" text-anchor="end" class="b" font-size="11">150</text>
<path d="M317.9 309.88H321.9" stroke="#111" stroke-width="1.4"/>
<text x="316.4" y="313.48" text-anchor="end" class="b" font-size="11">200</text>
<path d="M317.9 279H321.9" stroke="#111" stroke-width="1.4"/>
<text x="316.4" y="282.6" text-anchor="end" class="b" font-size="11">250</text>
<path d="M339.8 433.4V436.9" stroke="#111" stroke-width="1.2"/>
<text x="339.8" y="448.4" text-anchor="middle" class="b" font-size="10.8">ND</text>
<path d="M366.85 433.4V436.9" stroke="#111" stroke-width="1.2"/>
<text x="366.85" y="448.4" text-anchor="middle" class="b" font-size="10.8">HFD</text>
<path d="M393.9 433.4V436.9" stroke="#111" stroke-width="1.2"/>
<text x="393.9" y="448.4" text-anchor="middle" class="b" font-size="10.8">FXT</text>
<path d="M420.95 433.4V436.9" stroke="#111" stroke-width="1.2"/>
<text x="420.95" y="448.4" text-anchor="middle" class="b" font-size="10.8">SIM</text>
<path d="M448 433.4V436.9" stroke="#111" stroke-width="1.2"/>
<text x="448" y="448.4" text-anchor="middle" class="b" font-size="10.8">30</text>
<path d="M475.05 433.4V436.9" stroke="#111" stroke-width="1.2"/>
<text x="475.05" y="448.4" text-anchor="middle" class="b" font-size="10.8">100</text>
<path d="M502.1 433.4V436.9" stroke="#111" stroke-width="1.2"/>
<text x="502.1" y="448.4" text-anchor="middle" class="b" font-size="10.8">300</text>
<path d="M438.9 453.6H515" stroke="#111" stroke-width="1.4"/>
<text x="477.45" y="466" text-anchor="middle" class="b" font-size="10.8">BTS (mg/kg/d)</text>
<path d="M384 472.6H517.3" stroke="#111" stroke-width="1.4"/>
<text x="450.65" y="485" text-anchor="middle" class="b" font-size="10.8">+HFD</text>
<text transform="translate(290.7 354) rotate(-90)" text-anchor="middle" class="b" font-size="10.9">GluN2A (Intensity, %)</text>
<text x="271.9" y="262.8" font-size="16.4">(F)</text>
<path d="M368.1 302V299.2H502.3V302" stroke="#555" stroke-width="1.2" fill="none"/>
<text x="435" y="297.5" text-anchor="middle" class="b hs" font-size="10.5">#</text>
<rect x="598.3" y="392.8" width="16.2" height="38.5" fill="#ffffff" stroke="#111" stroke-width="1.4"/>
<rect x="625.73" y="422.8" width="16.2" height="8.5" fill="#5f5f5f" stroke="#111" stroke-width="1.4"/>
<rect x="653.16" y="373.1" width="16.2" height="58.2" fill="#d3d3d3" stroke="#111" stroke-width="1.4"/>
<rect x="680.59" y="380.6" width="16.2" height="50.7" fill="#efe6c8" stroke="#111" stroke-width="1.4"/>
<rect x="708.02" y="351.5" width="16.2" height="79.8" fill="#ff9e9e" stroke="#111" stroke-width="1.4"/>
<rect x="735.45" y="376.7" width="16.2" height="54.6" fill="#ff3b3b" stroke="#111" stroke-width="1.4"/>
<rect x="762.88" y="351.9" width="16.2" height="79.4" fill="#c00000" stroke="#111" stroke-width="1.4"/>
<path d="M606.4 392.6V371.8M602.2 371.8H610.6" stroke="#555" stroke-width="1.2" fill="none"/>
<path d="M633.83 422.6V419.2M629.63 419.2H638.03" stroke="#555" stroke-width="1.2" fill="none"/>
<path d="M661.26 372.9V359.4M657.06 359.4H665.46" stroke="#555" stroke-width="1.2" fill="none"/>
<path d="M688.69 380.4V355.3M684.49 355.3H692.89" stroke="#555" stroke-width="1.2" fill="none"/>
<path d="M716.12 351.3V314M711.92 314H720.32" stroke="#555" stroke-width="1.2" fill="none"/>
<path d="M743.55 376.5V328.8M739.35 328.8H747.75" stroke="#555" stroke-width="1.2" fill="none"/>
<path d="M770.98 351.7V326.1M766.78 326.1H775.18" stroke="#555" stroke-width="1.2" fill="none"/>
<circle cx="606.4" cy="374.7" r="1.8" fill="none" stroke="#111" stroke-width="1.6"/>
<circle cx="606.4" cy="382.4" r="1.8" fill="none" stroke="#111" stroke-width="1.6"/>
<circle cx="606.4" cy="390.3" r="1.8" fill="none" stroke="#111" stroke-width="1.6"/>
<circle cx="606.4" cy="421.5" r="1.8" fill="none" stroke="#111" stroke-width="1.6"/>
<circle cx="628.4" cy="420.4" r="1.8" fill="none" stroke="#111" stroke-width="1.6"/>
<circle cx="634" cy="418.8" r="1.8" fill="none" stroke="#111" stroke-width="1.6"/>
<circle cx="634" cy="424.9" r="1.8" fill="none" stroke="#111" stroke-width="1.6"/>
<circle cx="639.7" cy="424.9" r="1.8" fill="none" stroke="#111" stroke-width="1.6"/>
<circle cx="661.3" cy="354.4" r="1.8" fill="none" stroke="#111" stroke-width="1.6"/>
<circle cx="661.3" cy="371.8" r="1.8" fill="none" stroke="#111" stroke-width="1.6"/>
<circle cx="658.2" cy="382.4" r="1.8" fill="none" stroke="#111" stroke-width="1.6"/>
<circle cx="664.5" cy="380.8" r="1.8" fill="none" stroke="#111" stroke-width="1.6"/>
<circle cx="688.7" cy="349.9" r="1.8" fill="none" stroke="#111" stroke-width="1.6"/>
<circle cx="688.7" cy="370.7" r="1.8" fill="none" stroke="#111" stroke-width="1.6"/>
<circle cx="688.7" cy="394.8" r="1.8" fill="none" stroke="#111" stroke-width="1.6"/>
<circle cx="688.7" cy="403.9" r="1.8" fill="none" stroke="#111" stroke-width="1.6"/>
<circle cx="716" cy="297" r="1.8" fill="none" stroke="#111" stroke-width="1.6"/>
<circle cx="713.1" cy="362" r="1.8" fill="none" stroke="#111" stroke-width="1.6"/>
<circle cx="719.2" cy="365.6" r="1.8" fill="none" stroke="#111" stroke-width="1.6"/>
<circle cx="716" cy="377.5" r="1.8" fill="none" stroke="#111" stroke-width="1.6"/>
<circle cx="743.4" cy="306.2" r="1.8" fill="none" stroke="#111" stroke-width="1.6"/>
<circle cx="743.4" cy="386.8" r="1.8" fill="none" stroke="#111" stroke-width="1.6"/>
<circle cx="740.5" cy="406.7" r="1.8" fill="none" stroke="#111" stroke-width="1.6"/>
<circle cx="746.7" cy="404" r="1.8" fill="none" stroke="#111" stroke-width="1.6"/>
<circle cx="771" cy="321.6" r="1.8" fill="none" stroke="#111" stroke-width="1.6"/>
<circle cx="771" cy="340.1" r="1.8" fill="none" stroke="#111" stroke-width="1.6"/>
<circle cx="771" cy="364.6" r="1.8" fill="none" stroke="#111" stroke-width="1.6"/>
<circle cx="771" cy="377.3" r="1.8" fill="none" stroke="#111" stroke-width="1.6"/>
<path d="M587.9 275.3V431.3H789" stroke="#111" stroke-width="1.4" fill="none"/>
<path d="M583.9 431.3H587.9" stroke="#111" stroke-width="1.4"/>
<text x="582.4" y="434.9" text-anchor="end" class="b" font-size="11">0</text>
<path d="M583.9 392.3H587.9" stroke="#111" stroke-width="1.4"/>
<text x="582.4" y="395.9" text-anchor="end" class="b" font-size="11">100</text>
<path d="M583.9 353.3H587.9" stroke="#111" stroke-width="1.4"/>
<text x="582.4" y="356.9" text-anchor="end" class="b" font-size="11">200</text>
<path d="M583.9 314.3H587.9" stroke="#111" stroke-width="1.4"/>
<text x="582.4" y="317.9" text-anchor="end" class="b" font-size="11">300</text>
<path d="M583.9 275.3H587.9" stroke="#111" stroke-width="1.4"/>
<text x="582.4" y="278.9" text-anchor="end" class="b" font-size="11">400</text>
<path d="M606.4 431.3V434.8" stroke="#111" stroke-width="1.2"/>
<text x="606.4" y="446.3" text-anchor="middle" class="b" font-size="10.8">ND</text>
<path d="M633.83 431.3V434.8" stroke="#111" stroke-width="1.2"/>
<text x="633.83" y="446.3" text-anchor="middle" class="b" font-size="10.8">HFD</text>
<path d="M661.26 431.3V434.8" stroke="#111" stroke-width="1.2"/>
<text x="661.26" y="446.3" text-anchor="middle" class="b" font-size="10.8">FXT</text>
<path d="M688.69 431.3V434.8" stroke="#111" stroke-width="1.2"/>
<text x="688.69" y="446.3" text-anchor="middle" class="b" font-size="10.8">SIM</text>
<path d="M716.12 431.3V434.8" stroke="#111" stroke-width="1.2"/>
<text x="716.12" y="446.3" text-anchor="middle" class="b" font-size="10.8">30</text>
<path d="M743.55 431.3V434.8" stroke="#111" stroke-width="1.2"/>
<text x="743.55" y="446.3" text-anchor="middle" class="b" font-size="10.8">100</text>
<path d="M770.98 431.3V434.8" stroke="#111" stroke-width="1.2"/>
<text x="770.98" y="446.3" text-anchor="middle" class="b" font-size="10.8">300</text>
<path d="M706.5 451.5H782.6" stroke="#111" stroke-width="1.4"/>
<text x="745.05" y="463.9" text-anchor="middle" class="b" font-size="10.8">BTS (mg/kg/d)</text>
<path d="M651.6 470.5H785" stroke="#111" stroke-width="1.4"/>
<text x="718.3" y="482.9" text-anchor="middle" class="b" font-size="10.8">+HFD</text>
<text transform="translate(556.2 352.7) rotate(-90)" text-anchor="middle" class="b" font-size="10.9">GluN2B (Intensity, %)</text>
<text x="530.8" y="262.9" font-size="16.4">(G)</text>
<path d="M632.3 276.9V274.4H771.5V276.9" stroke="#555" stroke-width="1.2" fill="none"/>
<text x="701.9" y="273" text-anchor="middle" class="b hs" font-size="10.5">##</text>
<path d="M632.3 290.1V287.3H716.7V290.1" stroke="#555" stroke-width="1.2" fill="none"/>
<text x="674" y="286" text-anchor="middle" class="b hs" font-size="10.5">##</text>
<path d="M633.2 347.4V344.6H660.7V347.4" stroke="#555" stroke-width="1.2" fill="none"/>
<text x="648.4" y="342" text-anchor="middle" class="bi" font-size="9.2">p=0.08</text>
<defs><filter id="bblur" x="-20%" y="-100%" width="140%" height="300%"><feGaussianBlur stdDeviation="0.85"/></filter><filter id="hblur" x="-20%" y="-100%" width="140%" height="300%"><feGaussianBlur stdDeviation="1.6"/></filter><filter id="soft" x="-20%" y="-10%" width="140%" height="120%"><feGaussianBlur stdDeviation="0.9"/></filter></defs>
<text x="802.9" y="14.8" font-size="16.4">(D)</text>
<text x="948.5" y="39.3" text-anchor="middle" font-size="11.7">+HFD</text>
<path d="M880 41.8H1017" stroke="#111" stroke-width="1.3"/>
<text x="977.3" y="54.5" text-anchor="middle" font-size="11.9">BTS</text>
<path d="M937.5 57.6H1017" stroke="#111" stroke-width="1.3"/>
<text x="843.8" y="69.7" text-anchor="middle" font-size="11.7">ND</text>
<text x="870.4" y="69.7" text-anchor="middle" font-size="11.7">HFD</text>
<text x="896.8" y="69.7" text-anchor="middle" font-size="11.7">FXT</text>
<text x="923.4" y="69.7" text-anchor="middle" font-size="11.7">SIM</text>
<text x="950.6" y="69.7" text-anchor="middle" font-size="11.7">30</text>
<text x="977.3" y="69.7" text-anchor="middle" font-size="11.7">100</text>
<text x="1003.5" y="69.7" text-anchor="middle" font-size="11.7">300</text>
<text x="1020.2" y="90.8" font-size="11.7">GluN1</text>
<text x="1020.2" y="120.3" font-size="11.7">GluN2A</text>
<text x="1020.2" y="146.9" font-size="11.7">GluN2B</text>
<text x="1020.2" y="173.1" font-size="11.7">βActin</text>
<rect x="834.1" y="99.4" width="182.3" height="3" fill="#9c9c9c"/>
<rect x="834.1" y="128.5" width="182.3" height="3" fill="#dadada"/>
<rect x="834.1" y="157.5" width="182.3" height="3.1" fill="#d4d4d4"/>
<linearGradient id="d1" x1="0" y1="0" x2="0" y2="1"><stop offset="0" stop-color="#9e9e9e"/><stop offset="0.55" stop-color="#a8a8a8"/><stop offset="1" stop-color="#bcbcbc"/></linearGradient>
<rect x="834.1" y="73.4" width="182.3" height="26.0" fill="#f6f6f6"/>
<svg x="834.1" y="73.4" width="182.3" height="26.0" viewBox="834.1 73.4 182.3 26.0" overflow="hidden">
<g filter="url(#soft)">
<rect x="834.8" y="70.4" width="20.7" height="32.0" fill="url(#d1)"/>
<rect x="862.5" y="70.4" width="18.0" height="32.0" fill="url(#d1)"/>
<rect x="887.5" y="70.4" width="18.0" height="32.0" fill="url(#d1)"/>
<rect x="914.5" y="70.4" width="18.5" height="32.0" fill="url(#d1)"/>
<rect x="941.5" y="70.4" width="18.5" height="32.0" fill="url(#d1)"/>
<rect x="968" y="70.4" width="19.5" height="32.0" fill="url(#d1)"/>
<rect x="994.5" y="70.4" width="21.0" height="32.0" fill="url(#d1)"/>
</g>
<path d="M835.3 83.8Q845.15 83.95 855.0 84.1L855.0 93.1Q845.15 92.95 835.3 92.8Z" fill="#6a6a6a" filter="url(#hblur)"/>
<path d="M835.8 86.5Q845.15 86.65 854.5 86.8L854.5 90.4Q845.15 90.25 835.8 90.1Z" fill="#1e1e1e" filter="url(#bblur)"/>
<path d="M863.0 84.5Q871.5 84.5 880.0 84.5L880.0 93.5Q871.5 93.5 863.0 93.5Z" fill="#747474" filter="url(#hblur)"/>
<path d="M863.5 87.1Q871.5 87.1 879.5 87.1L879.5 90.9Q871.5 90.9 863.5 90.9Z" fill="#2a2a2a" filter="url(#bblur)"/>
<path d="M888.0 84.5Q896.5 84.5 905.0 84.5L905.0 93.5Q896.5 93.5 888.0 93.5Z" fill="#6c6c6c" filter="url(#hblur)"/>
<path d="M888.5 87.2Q896.5 87.2 904.5 87.2L904.5 90.8Q896.5 90.8 888.5 90.8Z" fill="#1e1e1e" filter="url(#bblur)"/>
<path d="M915.0 85.0Q923.75 85.25 932.5 83.5L932.5 92.5Q923.75 94.25 915.0 94.0Z" fill="#767676" filter="url(#hblur)"/>
<path d="M915.5 87.7Q923.75 87.95 932.0 86.2L932.0 89.8Q923.75 91.55 915.5 91.3Z" fill="#363636" filter="url(#bblur)"/>
<path d="M942.0 83.5Q950.75 83.65 959.5 83.8L959.5 92.8Q950.75 92.65 942.0 92.5Z" fill="#646464" filter="url(#hblur)"/>
<path d="M942.5 86.0Q950.75 86.15 959.0 86.3L959.0 90.3Q950.75 90.15 942.5 90.0Z" fill="#0c0c0c" filter="url(#bblur)"/>
<path d="M968.5 84.5Q977.75 84.4 987.0 84.3L987.0 92.3Q977.75 92.4 968.5 92.5Z" fill="#868686" filter="url(#hblur)"/>
<path d="M969.0 86.9Q977.75 86.8 986.5 86.7L986.5 89.9Q977.75 90.0 969.0 90.1Z" fill="#505050" filter="url(#bblur)"/>
<path d="M995.0 84.3Q1005.0 83.55 1015.0 81.8L1015.0 90.8Q1005.0 92.55 995.0 93.3Z" fill="#787878" filter="url(#hblur)"/>
<path d="M995.5 87.0Q1005.0 86.25 1014.5 84.5L1014.5 88.1Q1005.0 89.85 995.5 90.6Z" fill="#363636" filter="url(#bblur)"/>
</svg>
<rect x="834.1" y="73.4" width="182.3" height="26.0" fill="none" stroke="#262626" stroke-width="1.1"/>
<linearGradient id="d2" x1="0" y1="0" x2="0" y2="1"><stop offset="0" stop-color="#a8a8a8"/><stop offset="0.35" stop-color="#bcbcbc"/><stop offset="1" stop-color="#c4c4c4"/></linearGradient>
<rect x="834.1" y="102.3" width="182.3" height="26.2" fill="#f4f4f4"/>
<svg x="834.1" y="102.3" width="182.3" height="26.2" viewBox="834.1 102.3 182.3 26.2" overflow="hidden">
<g filter="url(#soft)">
<rect x="834.8" y="99.3" width="20.7" height="32.2" fill="url(#d2)"/>
<rect x="862.5" y="99.3" width="18.0" height="32.2" fill="url(#d2)"/>
<rect x="887.5" y="99.3" width="18.0" height="32.2" fill="url(#d2)"/>
<rect x="914.5" y="99.3" width="18.5" height="32.2" fill="url(#d2)"/>
<rect x="941.5" y="99.3" width="18.5" height="32.2" fill="url(#d2)"/>
<rect x="968" y="99.3" width="19.5" height="32.2" fill="url(#d2)"/>
<rect x="994.5" y="99.3" width="21.0" height="32.2" fill="url(#d2)"/>
</g>
<path d="M835.3 102.5Q844.4 103.5 853.5 104.5L853.5 110.5Q844.4 109.5 835.3 108.5Z" fill="#8a8a8a" filter="url(#bblur)"/>
<path d="M835.3 105.5Q845.15 106.9 855.0 108.3L855.0 117.3Q845.15 115.9 835.3 114.5Z" fill="#5a5a5a" filter="url(#hblur)"/>
<path d="M835.8 107.4Q845.15 108.8 854.5 110.2L854.5 115.4Q845.15 114.0 835.8 112.6Z" fill="#060606" filter="url(#bblur)"/>
<path d="M835.8 117.25Q845.15 117.5 854.5 117.75L854.5 120.25Q845.15 120.0 835.8 119.75Z" fill="#9a9a9a" filter="url(#bblur)"/>
<path d="M835.8 121.05Q845.15 121.4 854.5 121.75L854.5 124.25Q845.15 123.9 835.8 123.55Z" fill="#6a6a6a" filter="url(#bblur)"/>
<path d="M863.0 109.5Q871.5 110.5 880.0 111.5L880.0 116.5Q871.5 115.5 863.0 114.5Z" fill="#8a8a8a" filter="url(#hblur)"/>
<path d="M863.5 110.6Q871.5 111.6 879.5 112.6L879.5 115.4Q871.5 114.4 863.5 113.4Z" fill="#262626" filter="url(#bblur)"/>
<path d="M863.5 118.0Q871.5 118.0 879.5 118.0L879.5 120.0Q871.5 120.0 863.5 120.0Z" fill="#a8a8a8" filter="url(#bblur)"/>
<path d="M863.5 121.5Q871.5 121.5 879.5 121.5L879.5 123.5Q871.5 123.5 863.5 123.5Z" fill="#8a8a8a" filter="url(#bblur)"/>
<path d="M888.0 110.3Q896.5 110.55 905.0 110.8L905.0 118.8Q896.5 118.55 888.0 118.3Z" fill="#606060" filter="url(#hblur)"/>
<path d="M888.5 111.8Q896.5 112.05 904.5 112.3L904.5 117.3Q896.5 117.05 888.5 116.8Z" fill="#080808" filter="url(#bblur)"/>
<path d="M888.5 118.0Q896.5 118.0 904.5 118.0L904.5 120.0Q896.5 120.0 888.5 120.0Z" fill="#9a9a9a" filter="url(#bblur)"/>
<path d="M888.5 121.25Q896.5 121.4 904.5 121.55L904.5 124.05Q896.5 123.9 888.5 123.75Z" fill="#5a5a5a" filter="url(#bblur)"/>
<path d="M915.0 111.5Q923.75 111.85 932.5 112.2L932.5 118.2Q923.75 117.85 915.0 117.5Z" fill="#808080" filter="url(#hblur)"/>
<path d="M915.5 112.75Q923.75 113.1 932.0 113.45L932.0 116.95Q923.75 116.6 915.5 116.25Z" fill="#2a2a2a" filter="url(#bblur)"/>
<path d="M915.5 119.7Q923.75 119.7 932.0 119.7L932.0 121.9Q923.75 121.9 915.5 121.9Z" fill="#7a7a7a" filter="url(#bblur)"/>
<path d="M942.0 112.0Q950.75 111.5 959.5 111.0L959.5 117.0Q950.75 117.5 942.0 118.0Z" fill="#7a7a7a" filter="url(#hblur)"/>
<path d="M942.5 113.25Q950.75 112.75 959.0 112.25L959.0 115.75Q950.75 116.25 942.5 116.75Z" fill="#181818" filter="url(#bblur)"/>
<path d="M942.5 120.4Q950.75 120.4 959.0 120.4L959.0 122.6Q950.75 122.6 942.5 122.6Z" fill="#8a8a8a" filter="url(#bblur)"/>
<path d="M968.5 110.5Q977.75 109.75 987.0 109.0L987.0 115.0Q977.75 115.75 968.5 116.5Z" fill="#888888" filter="url(#hblur)"/>
<path d="M969.0 112.0Q977.75 111.25 986.5 110.5L986.5 113.5Q977.75 114.25 969.0 115.0Z" fill="#2a2a2a" filter="url(#bblur)"/>
<path d="M969.0 120.5Q977.75 120.5 986.5 120.5L986.5 122.5Q977.75 122.5 969.0 122.5Z" fill="#8e8e8e" filter="url(#bblur)"/>
<path d="M995.0 109.0Q1005.0 107.75 1015.0 106.5L1015.0 112.5Q1005.0 113.75 995.0 115.0Z" fill="#808080" filter="url(#hblur)"/>
<path d="M995.5 110.5Q1005.0 109.25 1014.5 108.0L1014.5 111.0Q1005.0 112.25 995.5 113.5Z" fill="#181818" filter="url(#bblur)"/>
<path d="M995.5 119.5Q1005.0 119.25 1014.5 119.0L1014.5 121.0Q1005.0 121.25 995.5 121.5Z" fill="#8e8e8e" filter="url(#bblur)"/>
</svg>
<rect x="834.1" y="102.3" width="182.3" height="26.2" fill="none" stroke="#262626" stroke-width="1.1"/>
<linearGradient id="d3" x1="0" y1="0" x2="0" y2="1"><stop offset="0" stop-color="#c0c0c0"/><stop offset="0.5" stop-color="#c6c6c6"/><stop offset="1" stop-color="#cacaca"/></linearGradient>
<rect x="834.1" y="131.4" width="182.3" height="26.1" fill="#dcdcdc"/>
<svg x="834.1" y="131.4" width="182.3" height="26.1" viewBox="834.1 131.4 182.3 26.1" overflow="hidden">
<g filter="url(#soft)">
<rect x="834.8" y="128.4" width="20.7" height="32.1" fill="url(#d3)"/>
<rect x="862.5" y="128.4" width="18.0" height="32.1" fill="url(#d3)"/>
<rect x="887.5" y="128.4" width="18.0" height="32.1" fill="url(#d3)"/>
<rect x="914.5" y="128.4" width="18.5" height="32.1" fill="url(#d3)"/>
<rect x="941.5" y="128.4" width="18.5" height="32.1" fill="url(#d3)"/>
<rect x="968" y="128.4" width="19.5" height="32.1" fill="url(#d3)"/>
<rect x="994.5" y="128.4" width="21.0" height="32.1" fill="url(#d3)"/>
</g>
<path d="M835.8 142.05Q845.15 144.3 854.5 145.35L854.5 147.65Q845.15 146.6 835.8 144.35Z" fill="#333333" filter="url(#bblur)"/>
<path d="M863.5 146.1Q871.5 146.4 879.5 146.7L879.5 148.9Q871.5 148.6 863.5 148.3Z" fill="#3a3a3a" filter="url(#bblur)"/>
<path d="M888.5 145.9Q896.5 145.9 904.5 145.9L904.5 148.1Q896.5 148.1 888.5 148.1Z" fill="#3a3a3a" filter="url(#bblur)"/>
<path d="M915.5 146.0Q923.75 145.65 932.0 145.3L932.0 147.3Q923.75 147.65 915.5 148.0Z" fill="#4a4a4a" filter="url(#bblur)"/>
<path d="M942.5 144.9Q950.75 144.65 959.0 144.4L959.0 146.6Q950.75 146.85 942.5 147.1Z" fill="#3a3a3a" filter="url(#bblur)"/>
<path d="M969.0 143.9Q977.75 142.9 986.5 141.9L986.5 144.1Q977.75 145.1 969.0 146.1Z" fill="#3a3a3a" filter="url(#bblur)"/>
<path d="M995.5 140.7Q1005.0 139.5 1014.5 136.7L1014.5 138.9Q1005.0 141.7 995.5 142.9Z" fill="#3a3a3a" filter="url(#bblur)"/>
</svg>
<rect x="834.1" y="131.4" width="182.3" height="26.1" fill="none" stroke="#262626" stroke-width="1.1"/>
<linearGradient id="actg" x1="0" y1="0" x2="0" y2="1"><stop offset="0" stop-color="#7a7a7a"/><stop offset="0.45" stop-color="#7e7e7e"/><stop offset="1" stop-color="#d6d6d6"/></linearGradient>
<linearGradient id="d4" x1="0" y1="0" x2="0" y2="1"><stop offset="0" stop-color="#e0e0e0"/><stop offset="1" stop-color="#e4e4e4"/></linearGradient>
<rect x="834.1" y="160.6" width="182.3" height="26.0" fill="#eeeeee"/>
<svg x="834.1" y="160.6" width="182.3" height="26.0" viewBox="834.1 160.6 182.3 26.0" overflow="hidden">
<g filter="url(#soft)">
<rect x="835" y="157.6" width="23.5" height="32.0" fill="url(#d4)"/>
<rect x="861.5" y="157.6" width="24.0" height="32.0" fill="url(#d4)"/>
<rect x="887.5" y="157.6" width="24.0" height="32.0" fill="url(#d4)"/>
<rect x="914.5" y="157.6" width="24.0" height="32.0" fill="url(#d4)"/>
<rect x="941.5" y="157.6" width="23.0" height="32.0" fill="url(#d4)"/>
<rect x="967.5" y="157.6" width="21.0" height="32.0" fill="url(#d4)"/>
<rect x="992.5" y="157.6" width="23.0" height="32.0" fill="url(#d4)"/>
</g>
<path d="M835.5 167.5Q846.75 168.3 858.0 166.0L858.0 182.0L835.5 182.0Z" fill="url(#actg)" filter="url(#bblur)"/>
<path d="M862.0 167.5Q873.5 168.3 885.0 166.0L885.0 182.0L862.0 182.0Z" fill="url(#actg)" filter="url(#bblur)"/>
<path d="M888.0 167.5Q899.5 168.3 911.0 166.0L911.0 182.0L888.0 182.0Z" fill="url(#actg)" filter="url(#bblur)"/>
<path d="M915.0 167.5Q926.5 168.3 938.0 166.0L938.0 182.0L915.0 182.0Z" fill="url(#actg)" filter="url(#bblur)"/>
<path d="M942.0 167.5Q953.0 168.3 964.0 166.0L964.0 182.0L942.0 182.0Z" fill="url(#actg)" filter="url(#bblur)"/>
<path d="M968.0 167.5Q978.0 168.3 988.0 166.0L988.0 182.0L968.0 182.0Z" fill="url(#actg)" filter="url(#bblur)"/>
<path d="M993.0 167.5Q1004.0 168.3 1015.0 166.0L1015.0 182.0L993.0 182.0Z" fill="url(#actg)" filter="url(#bblur)"/>
</svg>
<rect x="834.1" y="160.6" width="182.3" height="26.0" fill="none" stroke="#262626" stroke-width="1.1"/>
<text x="802.9" y="262.9" font-size="16.4">(H)</text>
<text x="948.5" y="281.3" text-anchor="middle" font-size="11.7">+HFD</text>
<path d="M880 283.8H1017" stroke="#111" stroke-width="1.3"/>
<text x="977.3" y="296.5" text-anchor="middle" font-size="11.9">BTS</text>
<path d="M937.5 299.6H1017" stroke="#111" stroke-width="1.3"/>
<text x="843.8" y="311.7" text-anchor="middle" font-size="11.7">ND</text>
<text x="870.4" y="311.7" text-anchor="middle" font-size="11.7">HFD</text>
<text x="896.8" y="311.7" text-anchor="middle" font-size="11.7">FXT</text>
<text x="923.4" y="311.7" text-anchor="middle" font-size="11.7">SIM</text>
<text x="950.6" y="311.7" text-anchor="middle" font-size="11.7">30</text>
<text x="977.3" y="311.7" text-anchor="middle" font-size="11.7">100</text>
<text x="1003.5" y="311.7" text-anchor="middle" font-size="11.7">300</text>
<text x="1021.5" y="335.0" font-size="11.7">GluN1</text>
<text x="1021.5" y="364.1" font-size="11.7">GluN2A</text>
<text x="1021.5" y="391.0" font-size="11.7">GluN2B</text>
<text x="1021.5" y="417.2" font-size="11.7">βActin</text>
<rect x="834.1" y="344.3" width="182.3" height="2.5" fill="#d8d8d8"/>
<rect x="834.1" y="373.2" width="182.3" height="2.8" fill="#e4e4e4"/>
<rect x="834.1" y="402.0" width="182.3" height="3.0" fill="#dcdcdc"/>
<linearGradient id="h1" x1="0" y1="0" x2="0" y2="1"><stop offset="0" stop-color="#a4a4a4"/><stop offset="0.4" stop-color="#b0b0b0"/><stop offset="0.6" stop-color="#bcbcbc"/><stop offset="1" stop-color="#cacaca"/></linearGradient>
<rect x="834.1" y="317.8" width="182.3" height="26.5" fill="#e6e6e6"/>
<svg x="834.1" y="317.8" width="182.3" height="26.5" viewBox="834.1 317.8 182.3 26.5" overflow="hidden">
<g filter="url(#soft)">
<rect x="834.8" y="314.8" width="20.7" height="32.5" fill="url(#h1)"/>
<rect x="862.5" y="314.8" width="18.0" height="32.5" fill="url(#h1)"/>
<rect x="887.5" y="314.8" width="18.0" height="32.5" fill="url(#h1)"/>
<rect x="914.5" y="314.8" width="18.5" height="32.5" fill="url(#h1)"/>
<rect x="941.5" y="314.8" width="18.5" height="32.5" fill="url(#h1)"/>
<rect x="968" y="314.8" width="19.5" height="32.5" fill="url(#h1)"/>
<rect x="994.5" y="314.8" width="21.0" height="32.5" fill="url(#h1)"/>
</g>
<path d="M835.3 325.05Q845.15 325.4 855.0 325.75L855.0 332.25Q845.15 331.9 835.3 331.55Z" fill="#606060" filter="url(#hblur)"/>
<path d="M835.8 326.7Q845.15 327.05 854.5 327.4L854.5 330.6Q845.15 330.25 835.8 329.9Z" fill="#101010" filter="url(#bblur)"/>
<ellipse cx="839" cy="328.5" rx="2.6" ry="2.2" fill="#000" filter="url(#bblur)"/>
<ellipse cx="851.5" cy="329.3" rx="2.6" ry="2.2" fill="#000" filter="url(#bblur)"/>
<path d="M863.0 327.2Q871.5 327.4 880.0 327.6L880.0 333.6Q871.5 333.4 863.0 333.2Z" fill="#a8a8a8" filter="url(#hblur)"/>
<path d="M863.5 328.6Q871.5 328.8 879.5 329.0L879.5 332.2Q871.5 332.0 863.5 331.8Z" fill="#8e8e8e" filter="url(#bblur)"/>
<path d="M888.0 327.25Q896.5 327.6 905.0 327.95L905.0 334.45Q896.5 334.1 888.0 333.75Z" fill="#646464" filter="url(#hblur)"/>
<path d="M888.5 328.85Q896.5 329.2 904.5 329.55L904.5 332.85Q896.5 332.5 888.5 332.15Z" fill="#141414" filter="url(#bblur)"/>
<ellipse cx="892" cy="330.8" rx="2.8" ry="2.4" fill="#000" filter="url(#bblur)"/>
<ellipse cx="902" cy="331.3" rx="2.8" ry="2.4" fill="#000" filter="url(#bblur)"/>
<path d="M915.0 328.0Q923.75 327.9 932.5 327.8L932.5 333.8Q923.75 333.9 915.0 334.0Z" fill="#6e6e6e" filter="url(#hblur)"/>
<path d="M915.5 329.3Q923.75 329.2 932.0 329.1L932.0 332.5Q923.75 332.6 915.5 332.7Z" fill="#262626" filter="url(#bblur)"/>
<ellipse cx="929.5" cy="330.8" rx="2.5" ry="2" fill="#000" filter="url(#bblur)"/>
<path d="M942.0 328.0Q950.75 326.9 959.5 325.8L959.5 332.8Q950.75 333.9 942.0 335.0Z" fill="#5e5e5e" filter="url(#hblur)"/>
<path d="M942.5 329.6Q950.75 328.5 959.0 327.4L959.0 331.2Q950.75 332.3 942.5 333.4Z" fill="#101010" filter="url(#bblur)"/>
<ellipse cx="945.5" cy="331.5" rx="2.6" ry="2.2" fill="#000" filter="url(#bblur)"/>
<path d="M968.5 325.0Q977.75 324.75 987.0 324.5L987.0 330.5Q977.75 330.75 968.5 331.0Z" fill="#6e6e6e" filter="url(#hblur)"/>
<path d="M969.0 326.3Q977.75 326.05 986.5 325.8L986.5 329.2Q977.75 329.45 969.0 329.7Z" fill="#262626" filter="url(#bblur)"/>
<path d="M995.0 325.0Q1005.0 323.9 1015.0 322.8L1015.0 328.8Q1005.0 329.9 995.0 331.0Z" fill="#6a6a6a" filter="url(#hblur)"/>
<path d="M995.5 326.3Q1005.0 325.2 1014.5 324.1L1014.5 327.5Q1005.0 328.6 995.5 329.7Z" fill="#1c1c1c" filter="url(#bblur)"/>
<ellipse cx="1011" cy="325.8" rx="2.4" ry="2" fill="#000" filter="url(#bblur)"/>
</svg>
<rect x="834.1" y="317.8" width="182.3" height="26.5" fill="none" stroke="#262626" stroke-width="1.1"/>
<linearGradient id="h2" x1="0" y1="0" x2="0" y2="1"><stop offset="0" stop-color="#e2e2e2"/><stop offset="1" stop-color="#e8e8e8"/></linearGradient>
<rect x="834.1" y="346.8" width="182.3" height="26.4" fill="#f0f0f0"/>
<svg x="834.1" y="346.8" width="182.3" height="26.4" viewBox="834.1 346.8 182.3 26.4" overflow="hidden">
<g filter="url(#soft)">
<rect x="834.8" y="343.8" width="20.7" height="32.4" fill="url(#h2)"/>
<rect x="862.5" y="343.8" width="18.0" height="32.4" fill="url(#h2)"/>
<rect x="887.5" y="343.8" width="18.0" height="32.4" fill="url(#h2)"/>
<rect x="914.5" y="343.8" width="18.5" height="32.4" fill="url(#h2)"/>
<rect x="941.5" y="343.8" width="18.5" height="32.4" fill="url(#h2)"/>
<rect x="968" y="343.8" width="19.5" height="32.4" fill="url(#h2)"/>
<rect x="994.5" y="343.8" width="21.0" height="32.4" fill="url(#h2)"/>
</g>
<path d="M835.3 357.75Q845.15 358.9 855.0 360.05L855.0 364.55Q845.15 363.4 835.3 362.25Z" fill="#b4b4b4" filter="url(#hblur)"/>
<path d="M835.8 358.85Q845.15 360.0 854.5 361.15L854.5 363.45Q845.15 362.3 835.8 361.15Z" fill="#505050" filter="url(#bblur)"/>
<path d="M863.0 360.75Q871.5 361.15 880.0 361.55L880.0 366.05Q871.5 365.65 863.0 365.25Z" fill="#bcbcbc" filter="url(#hblur)"/>
<path d="M863.5 361.9Q871.5 362.3 879.5 362.7L879.5 364.9Q871.5 364.5 863.5 364.1Z" fill="#7a7a7a" filter="url(#bblur)"/>
<path d="M888.0 360.55Q896.5 361.05 905.0 361.55L905.0 367.05Q896.5 366.55 888.0 366.05Z" fill="#909090" filter="url(#hblur)"/>
<path d="M888.5 361.7Q896.5 362.2 904.5 362.7L904.5 365.9Q896.5 365.4 888.5 364.9Z" fill="#161616" filter="url(#bblur)"/>
<path d="M915.0 360.35Q923.75 360.05 932.5 359.75L932.5 364.25Q923.75 364.55 915.0 364.85Z" fill="#b4b4b4" filter="url(#hblur)"/>
<path d="M915.5 361.5Q923.75 361.2 932.0 360.9L932.0 363.1Q923.75 363.4 915.5 363.7Z" fill="#5c5c5c" filter="url(#bblur)"/>
<path d="M942.0 359.75Q950.75 358.35 959.5 356.95L959.5 361.45Q950.75 362.85 942.0 364.25Z" fill="#acacac" filter="url(#hblur)"/>
<path d="M942.5 360.75Q950.75 359.35 959.0 357.95L959.0 360.45Q950.75 361.85 942.5 363.25Z" fill="#3c3c3c" filter="url(#bblur)"/>
<path d="M968.5 356.05Q977.75 355.4 987.0 354.75L987.0 359.25Q977.75 359.9 968.5 360.55Z" fill="#b4b4b4" filter="url(#hblur)"/>
<path d="M969.0 357.15Q977.75 356.5 986.5 355.85L986.5 358.15Q977.75 358.8 969.0 359.45Z" fill="#525252" filter="url(#bblur)"/>
<path d="M995.0 354.75Q1005.0 353.5 1015.0 352.25L1015.0 356.75Q1005.0 358.0 995.0 359.25Z" fill="#a4a4a4" filter="url(#hblur)"/>
<path d="M995.5 355.75Q1005.0 354.5 1014.5 353.25L1014.5 355.75Q1005.0 357.0 995.5 358.25Z" fill="#2c2c2c" filter="url(#bblur)"/>
</svg>
<rect x="834.1" y="346.8" width="182.3" height="26.4" fill="none" stroke="#262626" stroke-width="1.1"/>
<linearGradient id="h3" x1="0" y1="0" x2="0" y2="1"><stop offset="0" stop-color="#bcbcbc"/><stop offset="0.4" stop-color="#c0c0c0"/><stop offset="0.55" stop-color="#cdcdcd"/><stop offset="1" stop-color="#d2d2d2"/></linearGradient>
<rect x="834.1" y="376.0" width="182.3" height="26.0" fill="#e2e2e2"/>
<svg x="834.1" y="376.0" width="182.3" height="26.0" viewBox="834.1 376.0 182.3 26.0" overflow="hidden">
<g filter="url(#soft)">
<rect x="834.8" y="373.0" width="20.7" height="32.0" fill="url(#h3)"/>
<rect x="862.5" y="373.0" width="18.0" height="32.0" fill="url(#h3)"/>
<rect x="887.5" y="373.0" width="18.0" height="32.0" fill="url(#h3)"/>
<rect x="914.5" y="373.0" width="18.5" height="32.0" fill="url(#h3)"/>
<rect x="941.5" y="373.0" width="18.5" height="32.0" fill="url(#h3)"/>
<rect x="968" y="373.0" width="19.5" height="32.0" fill="url(#h3)"/>
<rect x="994.5" y="373.0" width="21.0" height="32.0" fill="url(#h3)"/>
</g>
<rect x="862.5" y="376" width="18" height="26" fill="#fff" opacity="0.35" filter="url(#soft)"/><rect x="914.5" y="376" width="18.5" height="26" fill="#fff" opacity="0.2" filter="url(#soft)"/>
<path d="M835.8 387.6Q845.15 387.9 854.5 388.2L854.5 390.2Q845.15 389.9 835.8 389.6Z" fill="#303030" filter="url(#bblur)"/>
<path d="M863.5 389.1Q871.5 389.1 879.5 389.1L879.5 390.9Q871.5 390.9 863.5 390.9Z" fill="#9a9a9a" filter="url(#bblur)"/>
<path d="M888.5 388.4Q896.5 388.55 904.5 388.7L904.5 390.9Q896.5 390.75 888.5 390.6Z" fill="#202020" filter="url(#bblur)"/>
<path d="M915.5 389.3Q923.75 389.4 932.0 389.5L932.0 391.3Q923.75 391.2 915.5 391.1Z" fill="#646464" filter="url(#bblur)"/>
<path d="M942.5 388.7Q950.75 388.4 959.0 388.1L959.0 390.3Q950.75 390.6 942.5 390.9Z" fill="#2a2a2a" filter="url(#bblur)"/>
<path d="M969.0 387.8Q977.75 387.3 986.5 386.8L986.5 388.8Q977.75 389.3 969.0 389.8Z" fill="#3c3c3c" filter="url(#bblur)"/>
<path d="M995.5 376.5Q1005.0 376.5 1014.5 376.5L1014.5 384.5Q1005.0 384.5 995.5 384.5Z" fill="#9a9a9a" filter="url(#bblur)"/>
<path d="M995.5 385.2Q1005.0 384.7 1014.5 384.2L1014.5 386.8Q1005.0 387.3 995.5 387.8Z" fill="#161616" filter="url(#bblur)"/>
</svg>
<rect x="834.1" y="376.0" width="182.3" height="26.0" fill="none" stroke="#262626" stroke-width="1.1"/>
<linearGradient id="h4" x1="0" y1="0" x2="0" y2="1"><stop offset="0" stop-color="#ececec"/><stop offset="1" stop-color="#eeeeee"/></linearGradient>
<rect x="834.1" y="405.0" width="182.3" height="27.8" fill="#f2f2f2"/>
<svg x="834.1" y="405.0" width="182.3" height="27.8" viewBox="834.1 405.0 182.3 27.8" overflow="hidden">
<g filter="url(#soft)">
<rect x="835" y="402.0" width="23.5" height="33.8" fill="url(#h4)"/>
<rect x="861.5" y="402.0" width="24.0" height="33.8" fill="url(#h4)"/>
<rect x="887.5" y="402.0" width="24.0" height="33.8" fill="url(#h4)"/>
<rect x="914.5" y="402.0" width="24.0" height="33.8" fill="url(#h4)"/>
<rect x="941.5" y="402.0" width="23.0" height="33.8" fill="url(#h4)"/>
<rect x="967.5" y="402.0" width="21.0" height="33.8" fill="url(#h4)"/>
<rect x="992.5" y="402.0" width="23.0" height="33.8" fill="url(#h4)"/>
</g>
<path d="M836.0 420.8Q846.75 420.8 857.5 420.8L857.5 426.8Q846.75 426.8 836.0 426.8Z" fill="#707070" filter="url(#hblur)"/>
<path d="M836.5 421.7Q846.75 421.7 857.0 421.7L857.0 425.9Q846.75 425.9 836.5 425.9Z" fill="#0a0a0a" filter="url(#bblur)"/>
<path d="M862.5 420.0Q873.5 419.8 884.5 419.6L884.5 425.6Q873.5 425.8 862.5 426.0Z" fill="#707070" filter="url(#hblur)"/>
<path d="M863.0 420.9Q873.5 420.7 884.0 420.5L884.0 424.7Q873.5 424.9 863.0 425.1Z" fill="#0a0a0a" filter="url(#bblur)"/>
<path d="M888.5 419.6Q899.5 419.45 910.5 419.3L910.5 425.3Q899.5 425.45 888.5 425.6Z" fill="#707070" filter="url(#hblur)"/>
<path d="M889.0 420.5Q899.5 420.35 910.0 420.2L910.0 424.4Q899.5 424.55 889.0 424.7Z" fill="#0c0c0c" filter="url(#bblur)"/>
<path d="M915.5 419.0Q926.5 418.75 937.5 418.5L937.5 424.5Q926.5 424.75 915.5 425.0Z" fill="#707070" filter="url(#hblur)"/>
<path d="M916.0 419.9Q926.5 419.65 937.0 419.4L937.0 423.6Q926.5 423.85 916.0 424.1Z" fill="#101010" filter="url(#bblur)"/>
<path d="M942.5 418.0Q953.0 417.5 963.5 417.0L963.5 423.0Q953.0 423.5 942.5 424.0Z" fill="#707070" filter="url(#hblur)"/>
<path d="M943.0 418.9Q953.0 418.4 963.0 417.9L963.0 422.1Q953.0 422.6 943.0 423.1Z" fill="#101010" filter="url(#bblur)"/>
<path d="M968.5 417.0Q978.0 416.25 987.5 415.5L987.5 421.5Q978.0 422.25 968.5 423.0Z" fill="#707070" filter="url(#hblur)"/>
<path d="M969.0 417.9Q978.0 417.15 987.0 416.4L987.0 420.6Q978.0 421.35 969.0 422.1Z" fill="#0c0c0c" filter="url(#bblur)"/>
<path d="M993.5 415.5Q1004.0 414.5 1014.5 413.5L1014.5 419.5Q1004.0 420.5 993.5 421.5Z" fill="#707070" filter="url(#hblur)"/>
<path d="M994.0 416.4Q1004.0 415.4 1014.0 414.4L1014.0 418.6Q1004.0 419.6 994.0 420.6Z" fill="#0a0a0a" filter="url(#bblur)"/>
</svg>
<rect x="834.1" y="405.0" width="182.3" height="27.8" fill="none" stroke="#262626" stroke-width="1.1"/>
</svg>
</body></html>
